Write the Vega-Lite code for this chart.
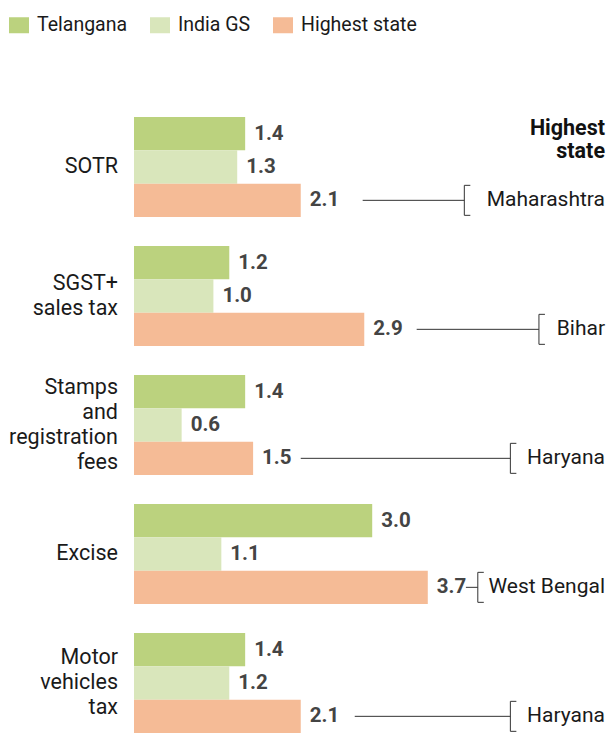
{
  "$schema": "https://vega.github.io/schema/vega-lite/v6.json",
  "padding": {"left": 9, "top": 15, "right": 0, "bottom": 0},
  "background": "white",
  "bounds": "flush",
  "data": {"values": [
    {"category": "SOTR", "series": "Telangana", "value": 1.4},
    {"category": "SOTR", "series": "India GS", "value": 1.3},
    {"category": "SOTR", "series": "Highest state", "value": 2.1, "state": "Maharashtra", "lineFrom": 2.88, "bracketAt": 4.16},
    {"category": "SOTR", "series": "Telangana", "header": "Highest|state"},
    {"category": "SGST+|sales tax", "series": "Telangana", "value": 1.2},
    {"category": "SGST+|sales tax", "series": "India GS", "value": 1.0},
    {"category": "SGST+|sales tax", "series": "Highest state", "value": 2.9, "state": "Bihar", "lineFrom": 3.56, "bracketAt": 5.1},
    {"category": "Stamps|and|registration|fees", "series": "Telangana", "value": 1.4},
    {"category": "Stamps|and|registration|fees", "series": "India GS", "value": 0.6},
    {"category": "Stamps|and|registration|fees", "series": "Highest state", "value": 1.5, "state": "Haryana", "lineFrom": 2.1, "bracketAt": 4.74},
    {"category": "Excise", "series": "Telangana", "value": 3.0},
    {"category": "Excise", "series": "India GS", "value": 1.1},
    {"category": "Excise", "series": "Highest state", "value": 3.7, "state": "West Bengal", "lineFrom": 4.18, "bracketAt": 4.33},
    {"category": "Motor|vehicles|tax", "series": "Telangana", "value": 1.4},
    {"category": "Motor|vehicles|tax", "series": "India GS", "value": 1.2},
    {"category": "Motor|vehicles|tax", "series": "Highest state", "value": 2.1, "state": "Haryana", "lineFrom": 2.78, "bracketAt": 4.74}
  ]},
  "facet": {
    "row": {
      "field": "category",
      "type": "nominal",
      "sort": ["SOTR", "SGST+|sales tax", "Stamps|and|registration|fees", "Excise", "Motor|vehicles|tax"],
      "title": null,
      "header": {"labels": false, "title": null}
    }
  },
  "spacing": 29,
  "spec": {
    "width": 473,
    "height": 100,
    "layer": [
      {
        "transform": [{"filter": "isValid(datum.value)"}],
        "mark": {"type": "bar"},
        "encoding": {
          "x": {"field": "value", "type": "quantitative", "scale": {"domain": [0, 5.957], "nice": false, "zero": true}, "axis": null},
          "y": {"field": "series", "type": "nominal", "scale": {"domain": ["Telangana", "India GS", "Highest state"], "paddingInner": 0, "paddingOuter": 0}, "axis": null},
          "color": {
            "field": "series", "type": "nominal",
            "scale": {"domain": ["Telangana", "India GS", "Highest state"], "range": ["#bbd27e", "#d9e6bb", "#f5bb96"]},
            "legend": {
              "title": null, "orient": "none", "legendX": -125, "legendY": -102, "direction": "horizontal",
              "symbolType": "M-1,-0.8H1V0.8H-1Z", "symbolSize": 400, "symbolStrokeWidth": 0, "symbolOpacity": 1,
              "labelFont": "Roboto", "labelFontSize": 19.5, "labelColor": "#1a1a1a",
              "labelOffset": 8, "columnPadding": 22
            }
          }
        }
      },
      {
        "transform": [{"filter": "isValid(datum.value)"}],
        "mark": {"type": "text", "align": "left", "baseline": "middle", "dx": 9, "font": "Roboto", "fontSize": 20.5, "fontWeight": "bold", "fill": "#444"},
        "encoding": {
          "x": {"field": "value", "type": "quantitative"},
          "y": {"field": "series", "type": "nominal"},
          "text": {"field": "value", "type": "quantitative", "format": ".1f"}
        }
      },
      {
        "transform": [{"filter": "isValid(datum.value) && datum.series === 'India GS'"}],
        "mark": {"type": "text", "align": "right", "baseline": "middle", "xOffset": -16, "dy": {"expr": "-(length(split(datum.category, '|')) - 1) * 12.5"}, "lineBreak": "|", "lineHeight": 25, "font": "Roboto", "fontSize": 21.5, "fill": "#1a1a1a"},
        "encoding": {
          "x": {"value": 0},
          "y": {"field": "series", "type": "nominal"},
          "text": {"field": "category"}
        }
      },
      {
        "transform": [{"filter": "isValid(datum.state)"}],
        "mark": {"type": "rule", "stroke": "#333", "strokeWidth": 1},
        "encoding": {
          "x": {"field": "lineFrom", "type": "quantitative"},
          "x2": {"field": "bracketAt"},
          "y": {"field": "series", "type": "nominal"}
        }
      },
      {
        "transform": [{"filter": "isValid(datum.state)"}],
        "mark": {"type": "tick", "orient": "vertical", "thickness": 6, "size": 30, "filled": false, "stroke": "#333", "strokeWidth": 1, "strokeDash": [6, 30, 36, 0], "xOffset": 3, "opacity": 1},
        "encoding": {
          "x": {"field": "bracketAt", "type": "quantitative"},
          "y": {"field": "series", "type": "nominal"}
        }
      },
      {
        "transform": [{"filter": "isValid(datum.state)"}],
        "mark": {"type": "text", "align": "right", "baseline": "middle", "xOffset": -2, "font": "Roboto", "fontSize": 21, "fill": "#1a1a1a"},
        "encoding": {
          "x": {"value": "width"},
          "y": {"field": "series", "type": "nominal"},
          "text": {"field": "state"}
        }
      },
      {
        "transform": [{"filter": "isValid(datum.header)"}],
        "mark": {"type": "text", "align": "right", "baseline": "middle", "xOffset": -2, "yOffset": -5, "lineBreak": "|", "lineHeight": 23, "font": "Roboto", "fontSize": 21.5, "fontWeight": "bold", "fill": "#111"},
        "encoding": {
          "x": {"value": "width"},
          "y": {"field": "series", "type": "nominal"},
          "text": {"field": "header"}
        }
      }
    ]
  },
  "config": {
    "view": {"stroke": null},
    "font": "Roboto"
  }
}
